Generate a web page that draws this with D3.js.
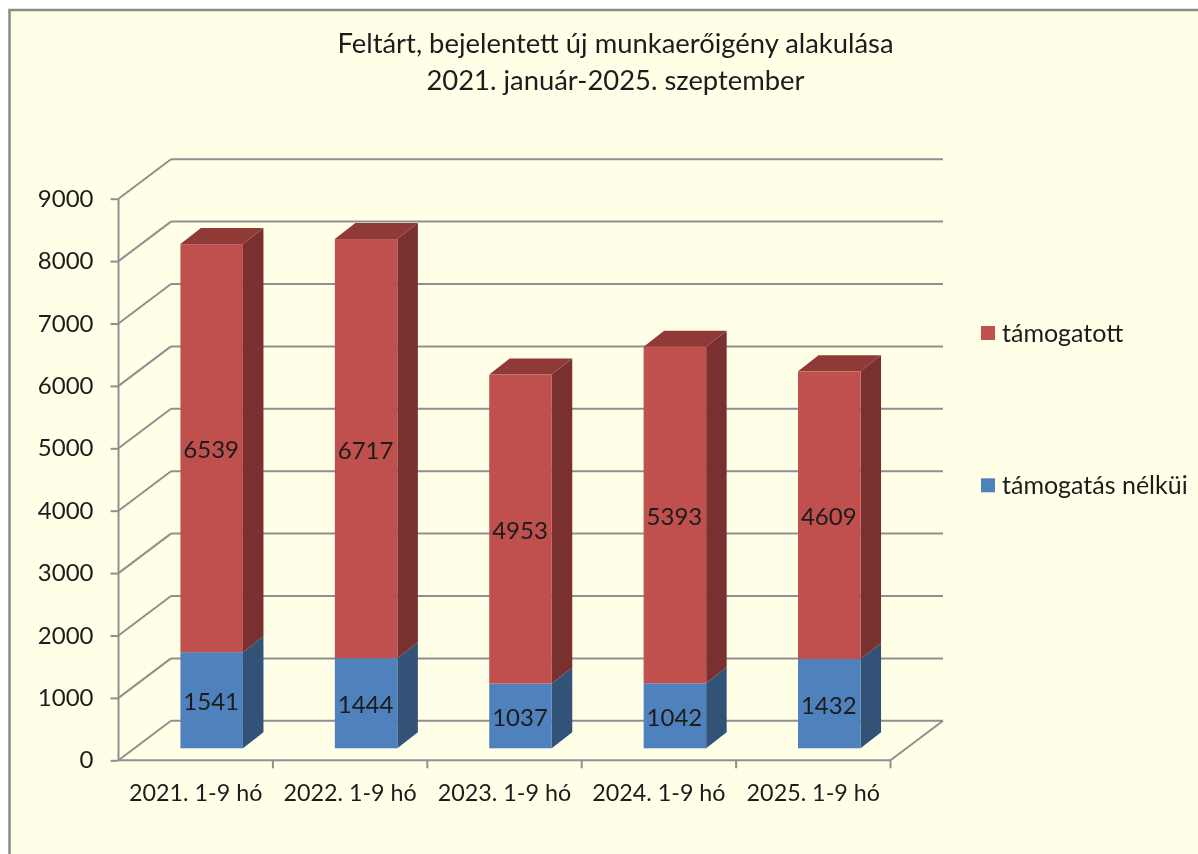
<!DOCTYPE html>
<html>
<head>
<meta charset="utf-8">
<script src="https://cdn.jsdelivr.net/npm/d3@7"></script>
<style>
  html, body { margin: 0; padding: 0; background: #fff; }
  svg { display: block; font-family: Lato, "Open Sans", sans-serif; filter: blur(0.4px); }
  text { fill: #1c1c1c; }
</style>
</head>
<body>
<div id="chart"></div>
<script>
var categories = ["2021. 1-9 hó", "2022. 1-9 hó", "2023. 1-9 hó", "2024. 1-9 hó", "2025. 1-9 hó"];
var unsupported = [1541, 1444, 1037, 1042, 1432];
var supported = [6539, 6717, 4953, 5393, 4609];
var yTicks = [0, 1000, 2000, 3000, 4000, 5000, 6000, 7000, 8000, 9000];
var titleLines = ["Feltárt, bejelentett új munkaerőigény alakulása", "2021. január-2025. szeptember"];
var seriesNames = ["támogatott", "támogatás nélküi"];

var width = 1198,
    height = 854;

// depth of the 3d box: wall offset and bar offset
var wallDx = 52.5, wallDy = -39.5;
var barDx = 20.5, barDy = -16;
var barShiftX = 16, barShiftY = -12;

var x = d3.scaleBand()
    .domain(categories)
    .range([118.5, 890.5])
    .paddingInner(0.595)
    .paddingOuter(0.2975);

var y = d3.scaleLinear()
    .domain([0, 9000])
    .range([760.3, 198.7]);

var rows = categories.map(function(c, i) {
  return { category: c, unsupported: unsupported[i], supported: supported[i] };
});

var stacked = d3.stack().keys(["unsupported", "supported"])(rows);

var colors = {
  unsupported: { front: "#4f81bd", side: "#325278", top: "#3f6797" },
  supported: { front: "#c0504d", side: "#7a302e", top: "#903a38" }
};

var svg = d3.select("#chart")
    .append("svg")
    .attr("width", width)
    .attr("height", height);

svg.append("rect")
    .attr("x", 9.5)
    .attr("y", 10)
    .attr("width", width)
    .attr("height", height)
    .attr("fill", "#ffffe8")
    .attr("stroke", "#8a8a8a")
    .attr("stroke-width", 2.5);

// title
svg.append("g").selectAll("text")
    .data(titleLines)
    .enter().append("text")
    .attr("x", 615.5)
    .attr("y", function(d, i) { return 53 + i * 37; })
    .attr("text-anchor", "middle")
    .style("font-size", "27.4px")
    .text(function(d) { return d; });

// back wall and side wall lines
var grid = svg.append("g")
    .attr("stroke", "#8f8f8f")
    .attr("stroke-width", 2)
    .attr("fill", "none");

grid.selectAll(".back")
    .data(yTicks)
    .enter().append("line")
    .attr("x1", 118.5 + wallDx)
    .attr("x2", 890.5 + wallDx)
    .attr("y1", function(d) { return y(d) + wallDy; })
    .attr("y2", function(d) { return y(d) + wallDy; });

grid.selectAll(".diag")
    .data(yTicks)
    .enter().append("line")
    .attr("x1", 118.5)
    .attr("x2", 118.5 + wallDx)
    .attr("y1", function(d) { return y(d); })
    .attr("y2", function(d) { return y(d) + wallDy; });

grid.append("line")
    .attr("x1", 890.5)
    .attr("x2", 890.5 + wallDx)
    .attr("y1", y(0))
    .attr("y2", y(0) + wallDy);

// axes
var yAxis = d3.axisLeft(y)
    .tickValues(yTicks)
    .tickSize(8)
    .tickPadding(17)
    .tickFormat(d3.format("d"));

var yG = svg.append("g")
    .attr("transform", "translate(118.5,0)")
    .call(yAxis);

var xAxis = d3.axisBottom(x)
    .tickSize(0)
    .tickPadding(24);

var xG = svg.append("g")
    .attr("transform", "translate(0," + y(0) + ")")
    .call(xAxis);

xG.selectAll(".tick")
    .append("line")
    .attr("x1", x.step() / 2)
    .attr("x2", x.step() / 2)
    .attr("y1", 0)
    .attr("y2", 8);

xG.append("line")
    .attr("x1", 118.5)
    .attr("x2", 118.5)
    .attr("y1", 0)
    .attr("y2", 8);

svg.selectAll(".domain, .tick line")
    .attr("stroke", "#8f8f8f")
    .attr("stroke-width", 2);

// d3 axis puts its own font-family on the g, so set ours back
yG.attr("font-family", null);
xG.attr("font-family", null);

yG.selectAll(".tick text")
    .style("font-size", "24px")
    .attr("fill", "#1c1c1c");

xG.selectAll(".tick text")
    .style("font-size", "23.3px")
    .attr("fill", "#1c1c1c");

yG.select(".domain").attr("d", "M0," + y(0) + "V" + y(9000));
xG.select(".domain").attr("d", "M118.5,0H890.5");

// bars, blue segments first so that the red ones sit on top of them
var layers = svg.selectAll(".layer")
    .data(stacked)
    .enter().append("g")
    .attr("class", "layer");

function barLeft(d) { return x(d.data.category) + barShiftX; }
function barRight(d) { return barLeft(d) + x.bandwidth(); }

layers.selectAll(".side")
    .data(function(s) { return s.map(function(d) { d.key = s.key; return d; }); })
    .enter().append("path")
    .attr("fill", function(d) { return colors[d.key].side; })
    .attr("d", function(d) {
      var r = barRight(d), y0 = y(d[0]) + barShiftY, y1 = y(d[1]) + barShiftY;
      return "M" + r + "," + y0 + "L" + (r + barDx) + "," + (y0 + barDy) +
             "L" + (r + barDx) + "," + (y1 + barDy) + "L" + r + "," + y1 + "Z";
    });

layers.selectAll(".top")
    .data(function(s) { return s.key === "supported" ? s : []; })
    .enter().append("path")
    .attr("fill", function(d) { return colors[d.key].top; })
    .attr("d", function(d) {
      var l = barLeft(d), r = barRight(d), y1 = y(d[1]) + barShiftY;
      return "M" + l + "," + y1 + "L" + (l + barDx) + "," + (y1 + barDy) +
             "L" + (r + barDx) + "," + (y1 + barDy) + "L" + r + "," + y1 + "Z";
    });

layers.selectAll(".front")
    .data(function(s) { return s; })
    .enter().append("rect")
    .attr("fill", function(d) { return colors[d.key].front; })
    .attr("x", barLeft)
    .attr("y", function(d) { return y(d[1]) + barShiftY; })
    .attr("width", x.bandwidth())
    .attr("height", function(d) { return y(d[0]) - y(d[1]); });

layers.selectAll(".label")
    .data(function(s) { return s; })
    .enter().append("text")
    .attr("x", function(d) { return barLeft(d) + x.bandwidth() / 2 - 0.5; })
    .attr("y", function(d) { return (y(d[0]) + y(d[1])) / 2 + barShiftY + 10; })
    .attr("text-anchor", "middle")
    .style("font-size", "24px")
    .text(function(d) { return d[1] - d[0]; });

// legend
var legendColors = [colors.supported.front, colors.unsupported.front];

var legend = svg.selectAll(".legend")
    .data(seriesNames)
    .enter().append("g")
    .attr("class", "legend")
    .attr("transform", function(d, i) { return "translate(981," + (326 + i * 152.3) + ")"; });

legend.append("rect")
    .attr("width", 14)
    .attr("height", 14)
    .attr("fill", function(d, i) { return legendColors[i]; });

legend.append("text")
    .attr("x", 21)
    .attr("y", 15.5)
    .style("font-size", "25px")
    .text(function(d) { return d; });
</script>
</body>
</html>
